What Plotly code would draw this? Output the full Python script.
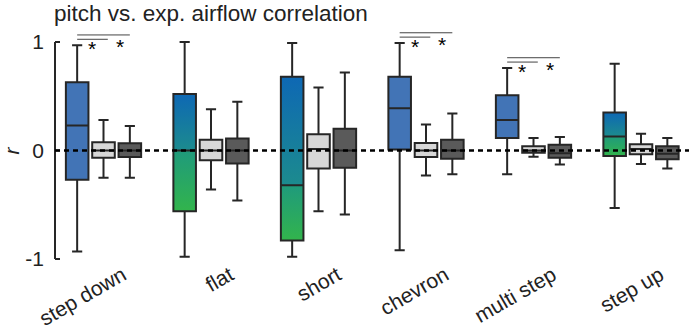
import plotly.graph_objects as go

# ---------------- data ----------------
categories = ["step down", "flat", "short", "chevron", "multi step", "step up"]

# measured correlation (first box of each group)
meas_lo = [-0.93, -0.98, -0.98, -0.92, -0.22, -0.53]
meas_q1 = [-0.27, -0.56, -0.83, 0.01, 0.115, -0.05]
meas_med = [0.23, 0.0, -0.32, 0.39, 0.28, 0.13]
meas_q3 = [0.63, 0.52, 0.68, 0.68, 0.51, 0.35]
meas_hi = [0.97, 1.0, 0.99, 0.99, 0.76, 0.80]

# control 1 (light grey)
ctl1_lo = [-0.25, -0.36, -0.56, -0.23, -0.057, -0.125]
ctl1_q1 = [-0.066, -0.09, -0.165, -0.06, -0.02, -0.035]
ctl1_med = [0.0, 0.0, 0.014, 0.0, 0.0, 0.014]
ctl1_q3 = [0.075, 0.10, 0.15, 0.07, 0.04, 0.057]
ctl1_hi = [0.28, 0.38, 0.58, 0.24, 0.115, 0.155]

# control 2 (dark grey)
ctl2_lo = [-0.25, -0.46, -0.59, -0.22, -0.13, -0.165]
ctl2_q1 = [-0.06, -0.12, -0.16, -0.075, -0.066, -0.08]
ctl2_med = [0.0, 0.0, 0.0, 0.0, -0.026, -0.03]
ctl2_q3 = [0.066, 0.11, 0.20, 0.10, 0.054, 0.04]
ctl2_hi = [0.226, 0.45, 0.72, 0.34, 0.125, 0.115]

# groups where measured differs significantly from both controls
sig_groups = ["step down", "chevron", "multi step"]

y_tick_vals = [-1, 0, 1]
y_tick_text = ["-1", "0", "1"]

# ---------------- style ----------------
FONT = "Liberation Sans, Arial, sans-serif"
TXT = "#222222"
EDGE = "#262626"
BLUE = "#4274b6"
LIGHT = "#d7d7d7"
DARK = "#5a5a5a"
GRADIENT_CATS = {"flat", "short", "step up"}
UPPER_SCALE = [[0, "#1c8b8e"], [1, "#0e68b4"]]
LOWER_SCALE = [[0, "#32b44c"], [1, "#1f9a7c"]]

OFF = 0.245      # offset of side boxes from group centre (x units)
BW = 0.21        # box width (x units)

# layout geometry
ML, MR, MT, MB = 55, 0, 20, 59
W, H = 689, 329
PX_PER_X = 107.5
PX_PER_Y = 108.5
x_lo = (ML - 103.5) / PX_PER_X
x_hi = x_lo + (W - ML - MR) / PX_PER_X
y_hi = (150.5 - MT) / PX_PER_Y
y_lo = y_hi - (H - MT - MB) / PX_PER_Y
plot_h = H - MT - MB
plot_w = W - ML - MR

centers = list(range(len(categories)))

fig = go.Figure()

box_common = dict(
    boxpoints=False, width=BW, whiskerwidth=0.45,
    line=dict(color=EDGE, width=2), hoverinfo="skip", showlegend=False,
    xaxis="x", yaxis="y2",
)

# gradient fills (drawn on primary y, below the boxes on overlay axis)
for i, c in enumerate(categories):
    if c not in GRADIENT_CATS:
        continue
    x0 = centers[i] - OFF - BW / 2
    x1 = centers[i] - OFF + BW / 2
    fig.add_trace(go.Scatter(
        x=[x0, x1, x1, x0, x0], y=[meas_med[i], meas_med[i], meas_q3[i], meas_q3[i], meas_med[i]],
        fill="toself", mode="lines", line=dict(width=0),
        fillgradient=dict(type="vertical", colorscale=UPPER_SCALE),
        hoverinfo="skip", showlegend=False))
    fig.add_trace(go.Scatter(
        x=[x0, x1, x1, x0, x0], y=[meas_q1[i], meas_q1[i], meas_med[i], meas_med[i], meas_q1[i]],
        fill="toself", mode="lines", line=dict(width=0),
        fillgradient=dict(type="vertical", colorscale=LOWER_SCALE),
        hoverinfo="skip", showlegend=False))

# measured boxes
for grad in (False, True):
    idx = [i for i, c in enumerate(categories) if (c in GRADIENT_CATS) == grad]
    fig.add_trace(go.Box(
        x=[centers[i] - OFF for i in idx],
        lowerfence=[meas_lo[i] for i in idx], q1=[meas_q1[i] for i in idx],
        median=[meas_med[i] for i in idx], q3=[meas_q3[i] for i in idx],
        upperfence=[meas_hi[i] for i in idx],
        fillcolor="rgba(0,0,0,0)" if grad else BLUE, **box_common))

# controls
for off, lo, q1, med, q3, hi, col in [
    (0.0, ctl1_lo, ctl1_q1, ctl1_med, ctl1_q3, ctl1_hi, LIGHT),
    (OFF, ctl2_lo, ctl2_q1, ctl2_med, ctl2_q3, ctl2_hi, DARK),
]:
    fig.add_trace(go.Box(
        x=[c + off for c in centers], lowerfence=lo, q1=q1, median=med, q3=q3,
        upperfence=hi, fillcolor=col, **box_common))

shapes = []
# y axis spine from -1 to 1 with inward ticks
shapes.append(dict(type="line", xref="paper", yref="y", x0=0, x1=0, y0=-1, y1=1,
                   line=dict(color=EDGE, width=2)))
tick_len = 5 / plot_w
for v in y_tick_vals:
    shapes.append(dict(type="line", xref="paper", yref="y", x0=0, x1=tick_len, y0=v, y1=v,
                       line=dict(color=EDGE, width=2)))
# zero reference line
shapes.append(dict(type="line", xref="paper", yref="y", x0=0, x1=1, y0=0, y1=0, layer="above",
                   line=dict(color="black", width=2.5, dash="5px,4px")))

annotations = []
for c in sig_groups:
    i = categories.index(c)
    xa = centers[i] - OFF
    y_low = meas_hi[i] + 0.055
    y_high = meas_hi[i] + 0.095
    shapes.append(dict(type="line", xref="x", yref="y", x0=xa, x1=centers[i] + 0.04, y0=y_low, y1=y_low,
                       line=dict(color="#444444", width=1)))
    shapes.append(dict(type="line", xref="x", yref="y", x0=xa, x1=centers[i] + OFF, y0=y_high, y1=y_high,
                       line=dict(color="#444444", width=1)))
    for xs, ys in [((xa + centers[i]) / 2 + 0.02, y_low - 0.085),
                   ((centers[i] + centers[i] + OFF) / 2 + 0.03, y_low - 0.065)]:
        annotations.append(dict(x=xs, y=ys, xref="x", yref="y", text="*", showarrow=False,
                                font=dict(family=FONT, size=21, color="black")))

# title and y label
annotations.append(dict(xref="paper", yref="paper", x=(53 - ML) / plot_w, y=(H - MB) / plot_h,
                        xanchor="left", yanchor="top", showarrow=False, borderpad=0,
                        text="pitch vs. exp. airflow correlation",
                        font=dict(family=FONT, size=22.5, color=TXT)))
annotations.append(dict(xref="paper", yref="y", x=(11 - ML) / plot_w, y=0,
                        xanchor="center", yanchor="middle", showarrow=False, textangle=-90,
                        borderpad=0,
                        text="<i>r</i>", font=dict(family=FONT, size=21, color=TXT)))

fig.update_layout(
    width=W, height=H, margin=dict(l=ML, r=MR, t=MT, b=MB, autoexpand=False),
    paper_bgcolor="white", plot_bgcolor="white",
    font=dict(family=FONT, size=21, color=TXT),
    shapes=shapes, annotations=annotations,
    xaxis=dict(range=[x_lo, x_hi], tickvals=centers, ticktext=categories, tickangle=-30,
               showgrid=False, zeroline=False, showline=False, ticks="", automargin=False,
               ticklabelshift=19, ticklabelstandoff=-12, fixedrange=True),
    yaxis=dict(range=[y_lo, y_hi], tickvals=y_tick_vals, ticktext=y_tick_text,
               showgrid=False, zeroline=False, showline=False, ticks="", automargin=False,
               ticklabelstandoff=10, fixedrange=True),
    yaxis2=dict(range=[y_lo, y_hi], overlaying="y", visible=False, showgrid=False,
                zeroline=False, automargin=False, fixedrange=True),
)

fig.write_html(
    "out.html",
    config={"displayModeBar": False},
    post_script="document.body.style.margin='0px';document.body.style.overflow='hidden';",
)
